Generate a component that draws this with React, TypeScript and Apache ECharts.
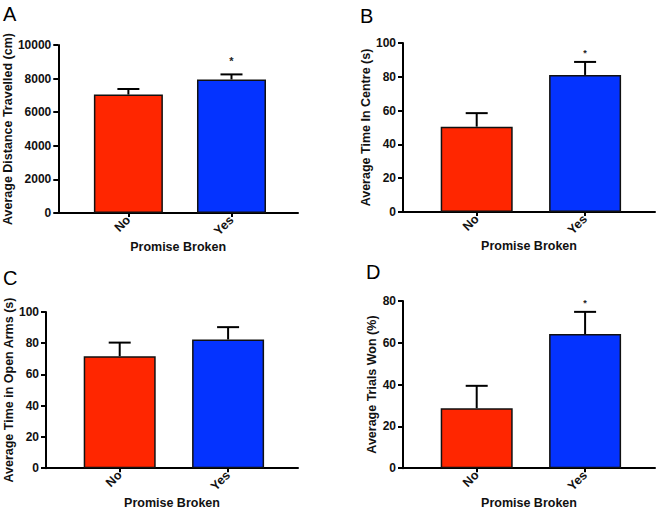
import React, { useEffect, useRef } from "react";
import * as echarts from "echarts";

const categories = ["No", "Yes"];

const distanceMeans = [7050, 7950];
const distanceErrors = [330, 300];
const distanceSig = ["", "*"];

const centreMeans = [50.5, 81.1];
const centreErrors = [8.0, 7.7];
const centreSig = ["", "*"];

const armsMeans = [71.7, 82.4];
const armsErrors = [8.7, 7.9];
const armsSig = ["", ""];

const wonMeans = [28.7, 64.2];
const wonErrors = [10.7, 10.6];
const wonSig = ["", "*"];

const yNames = [
  "Average Distance Travelled (cm)",
  "Average Time In Centre (s)",
  "Average Time in Open Arms (s)",
  "Average Trials Won (%)",
];
const yMax = [10000, 100, 100, 80];
const yInterval = [2000, 20, 20, 20];
const panelLetters = ["A", "B", "C", "D"];
const xName = "Promise Broken";

const FONT = "Liberation Sans, Arial, sans-serif";
const RED = "#FF2600";
const BLUE = "#0433FF";

const layout = [
  { left: 57, top: 45, width: 241, height: 168, yGap: 36, xGap: 27, barW: 69, letter: [3, 4], ast: 13 },
  { left: 403, top: 43, width: 252, height: 169, yGap: 25, xGap: 27, barW: 72, letter: [360, 6], ast: 9 },
  { left: 46, top: 312, width: 252, height: 161, yGap: 28, xGap: 25, barW: 72, letter: [3, 268], ast: 10 },
  { left: 403, top: 301, width: 252, height: 169, yGap: 21, xGap: 26, barW: 72, letter: [366, 262], ast: 9 },
];

export default function App() {
  const ref = useRef<HTMLDivElement>(null);
  useEffect(() => {
    if (!ref.current) return;
    const chart = echarts.init(ref.current, null, { renderer: "svg" });
    const panels = [
      { means: distanceMeans, errs: distanceErrors, sig: distanceSig },
      { means: centreMeans, errs: centreErrors, sig: centreSig },
      { means: armsMeans, errs: armsErrors, sig: armsSig },
      { means: wonMeans, errs: wonErrors, sig: wonSig },
    ];
    const grid: any[] = [];
    const xAxis: any[] = [];
    const yAxis: any[] = [];
    const series: any[] = [];
    const graphic: any[] = [];
    panels.forEach((p, i) => {
      const L = layout[i];
      grid.push({ left: L.left, top: L.top, width: L.width, height: L.height, containLabel: false });
      xAxis.push({
        type: "value",
        gridIndex: i,
        min: -0.68,
        max: 1.645,
        name: xName,
        nameLocation: "middle",
        nameGap: L.xGap,
        nameTextStyle: { fontFamily: FONT, fontWeight: "bold", fontSize: 12.5, color: "#111" },
        splitLine: { show: false },
        axisLine: { show: true, onZero: false, lineStyle: { color: "#000", width: 2 } },
        axisTick: { show: true, customValues: [0, 1], length: 4, lineStyle: { color: "#000", width: 2 } },
        axisLabel: {
          customValues: [0, 1],
          formatter: (v: number) => categories[Math.round(v)] ?? "",
          rotate: 45,
          margin: 5,
          fontFamily: FONT,
          fontWeight: "bold",
          fontSize: 12.5,
          color: "#111",
        },
      });
      yAxis.push({
        type: "value",
        gridIndex: i,
        min: 0,
        max: yMax[i],
        interval: yInterval[i],
        name: yNames[i],
        nameLocation: "middle",
        nameGap: L.yGap,
        nameTextStyle: { fontFamily: FONT, fontWeight: "bold", fontSize: 12.5, color: "#111" },
        splitLine: { show: false },
        axisLine: { show: true, onZero: false, lineStyle: { color: "#000", width: 2 } },
        axisTick: { show: true, length: 5, lineStyle: { color: "#000", width: 2 } },
        axisLabel: {
          margin: 7,
          formatter: (v: number) => String(v),
          fontFamily: FONT,
          fontWeight: "bold",
          fontSize: 12,
          color: "#111",
        },
      });
      series.push({
        type: "bar",
        xAxisIndex: i,
        yAxisIndex: i,
        barWidth: L.barW,
        data: p.means.map((m, k) => ({
          value: [k, m],
          itemStyle: { color: k === 0 ? RED : BLUE, borderColor: "#111", borderWidth: 1.5 },
        })),
      });
      series.push({
        type: "custom",
        xAxisIndex: i,
        yAxisIndex: i,
        z: 5,
        data: p.means.map((m, k) => [k, m, p.errs[k]]),
        renderItem: (params: any, api: any) => {
          const x = api.value(0);
          const m = api.value(1);
          const e = api.value(2);
          const base = api.coord([x, m]);
          const top = api.coord([x, m + e]);
          const half = 11;
          const children: any[] = [
            { type: "line", shape: { x1: base[0], y1: base[1], x2: top[0], y2: top[1] }, style: { stroke: "#000", lineWidth: 2 } },
            { type: "line", shape: { x1: top[0] - half, y1: top[1], x2: top[0] + half, y2: top[1] }, style: { stroke: "#000", lineWidth: 2 } },
          ];
          const s = p.sig[params.dataIndex];
          if (s) {
            children.push({
              type: "text",
              x: top[0],
              y: top[1] - L.ast,
              style: { text: s, fill: "#222", font: `bold ${i === 0 ? 11 : 9}px ${FONT}`, align: "center", verticalAlign: "middle" },
            });
          }
          return { type: "group", children };
        },
      });
      graphic.push({
        type: "text",
        left: L.letter[0],
        top: L.letter[1],
        style: { text: panelLetters[i], fill: "#000", font: `20px ${FONT}` },
      });
    });
    chart.setOption({
      animation: false,
      backgroundColor: "#fff",
      grid,
      xAxis,
      yAxis,
      series,
      graphic,
    });
    return () => chart.dispose();
  }, []);
  return <div ref={ref} style={{ position: "fixed", left: 0, top: 0, width: 660, height: 510 }} />;
}
